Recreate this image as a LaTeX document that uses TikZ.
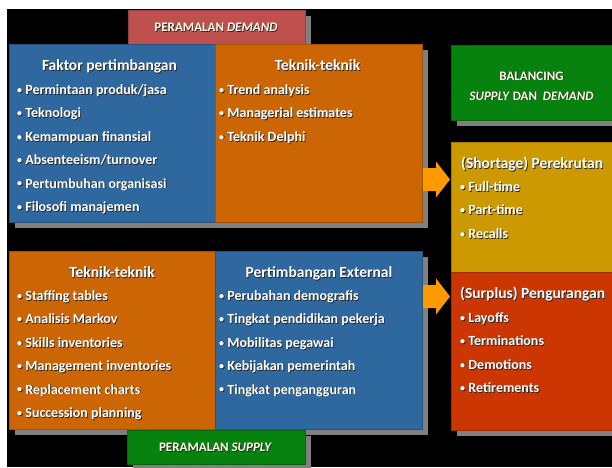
\documentclass[tikz,border=0pt]{standalone}
\usepackage{fontspec}
\setmainfont{Carlito}
\usetikzlibrary{shadows}
\definecolor{cblue}{RGB}{46,104,158}
\definecolor{corange}{RGB}{204,102,4}
\definecolor{cred}{RGB}{192,80,77}
\definecolor{cgreen}{RGB}{8,130,14}
\definecolor{cgold}{RGB}{204,153,0}
\definecolor{csurplus}{RGB}{204,54,2}
\definecolor{carrow}{RGB}{255,153,0}
\definecolor{cshadow}{RGB}{128,128,128}
\definecolor{txtshadow}{RGB}{40,40,40}
\newcommand{\tx}[4]{%
  \node[#1, text=txtshadow, xshift=0.8pt, yshift=-0.8pt] at (#3) {#4};
  \node[#1] (#2) at (#3) {#4};}
\newcommand{\bul}{{\fontsize{10}{10}\selectfont\raisebox{1.2pt}{•}}\hspace{3.2pt}}
\tikzset{
  box/.style={draw=#1!80!black, line width=0.5pt, fill=#1, anchor=north west, inner sep=0pt,
    drop shadow={shadow xshift=6pt, shadow yshift=-6pt, fill=cshadow, opacity=1, draw=none}},
  hd/.style={text=white, anchor=base, inner sep=0pt, font=\fontsize{15.5}{18}\selectfont\bfseries},
  hdl/.style={hd, anchor=base west},
  bl/.style={text=white, anchor=base west, inner sep=0pt, font=\fontsize{14}{16}\selectfont\bfseries},
  lbl/.style={text=white!92!yellow, anchor=base, inner sep=0pt, font=\fontsize{13}{15}\selectfont\bfseries},
  blockarrow/.style={fill=carrow},
}
\begin{document}
\begin{tikzpicture}[x=1pt,y=-1pt]
\useasboundingbox (0,0) rectangle (612,467);
\fill[white] (0,0) rectangle (612,467);
\fill[black] (7,9) rectangle (612,467);
% boxes
\node[box=cred, minimum width=177pt, minimum height=34pt] (dem) at (128,10) {};
\node[box=cblue, minimum width=206pt, minimum height=178pt] (fak) at (9,44) {};
\node[box=corange, minimum width=207pt, minimum height=178pt] (tt1) at (215,44) {};
\node[box=cgreen, minimum width=161pt, minimum height=75pt] (bal) at (451,45) {};
\node[box=cgold, minimum width=161pt, minimum height=130pt] (sho) at (451,142) {};
\node[box=csurplus, minimum width=161pt, minimum height=158pt] (sur) at (451,272) {};
\node[box=corange, minimum width=206pt, minimum height=178pt] (tt2) at (9,251) {};
\node[box=cblue, minimum width=207pt, minimum height=178pt] (ext) at (215,251) {};
\node[box=cgreen, minimum width=178pt, minimum height=34pt] (sup) at (127,430) {};
% arrows
\fill[blockarrow] (423,168) -- (436,168) -- (436,161.5) -- (450,179.5) -- (436,197.5) -- (436,191) -- (423,191) -- cycle;
\fill[blockarrow] (423,285) -- (436,285) -- (436,278.5) -- (450,296.5) -- (436,314.5) -- (436,308) -- (423,308) -- cycle;
% header labels
\tx{lbl}{tdem}{216,31.5}{PERAMALAN \textit{DEMAND}}
\tx{lbl}{tsup}{215.5,451.5}{PERAMALAN \textit{SUPPLY}}
\tx{lbl}{tbal1}{531.5,80}{BALANCING}
\tx{lbl}{tbal2}{531.5,100}{\textit{SUPPLY} DAN \ \textit{DEMAND}}
% top left
\tx{hd}{h1}{109.5,70.5}{Faktor pertimbangan}
\tx{bl}{a1}{17,94.5}{\bul Permintaan produk/jasa}
\tx{bl}{a2}{17,117.9}{\bul Teknologi}
\tx{bl}{a3}{17,141.3}{\bul Kemampuan finansial}
\tx{bl}{a4}{17,164.7}{\bul Absenteeism/turnover}
\tx{bl}{a5}{17,188.1}{\bul Pertumbuhan organisasi}
\tx{bl}{a6}{17,211.5}{\bul Filosofi manajemen}
% top middle
\tx{hd}{h2}{317.5,70.5}{Teknik-teknik}
\tx{bl}{b1}{219,94.5}{\bul Trend analysis}
\tx{bl}{b2}{219,117.9}{\bul Managerial estimates}
\tx{bl}{b3}{219,141.3}{\bul Teknik Delphi}
% right top
\tx{hdl}{h3}{461,168.5}{(Shortage) Perekrutan}
\tx{bl}{c1}{460,191.5}{\bul Full-time}
\tx{bl}{c2}{460,214.9}{\bul Part-time}
\tx{bl}{c3}{460,238.3}{\bul Recalls}
% right bottom
\tx{hdl}{h4}{460,298.5}{(Surplus) Pengurangan}
\tx{bl}{d1}{460,322.5}{\bul Layoffs}
\tx{bl}{d2}{460,345.9}{\bul Terminations}
\tx{bl}{d3}{460,369.3}{\bul Demotions}
\tx{bl}{d4}{460,392.7}{\bul Retirements}
% bottom left
\tx{hd}{h5}{112,277.5}{Teknik-teknik}
\tx{bl}{e1}{17,300.5}{\bul Staffing tables}
\tx{bl}{e2}{17,323.9}{\bul Analisis Markov}
\tx{bl}{e3}{17,347.3}{\bul Skills inventories}
\tx{bl}{e4}{17,370.7}{\bul Management inventories}
\tx{bl}{e5}{17,394.1}{\bul Replacement charts}
\tx{bl}{e6}{17,417.5}{\bul Succession planning}
% bottom middle
\tx{hd}{h6}{319,277.5}{Pertimbangan External}
\tx{bl}{f1}{219,300.5}{\bul Perubahan demografis}
\tx{bl}{f2}{219,323.9}{\bul Tingkat pendidikan pekerja}
\tx{bl}{f3}{219,347.3}{\bul Mobilitas pegawai}
\tx{bl}{f4}{219,370.7}{\bul Kebijakan pemerintah}
\tx{bl}{f5}{219,394.1}{\bul Tingkat pengangguran}
\end{tikzpicture}
\end{document}
